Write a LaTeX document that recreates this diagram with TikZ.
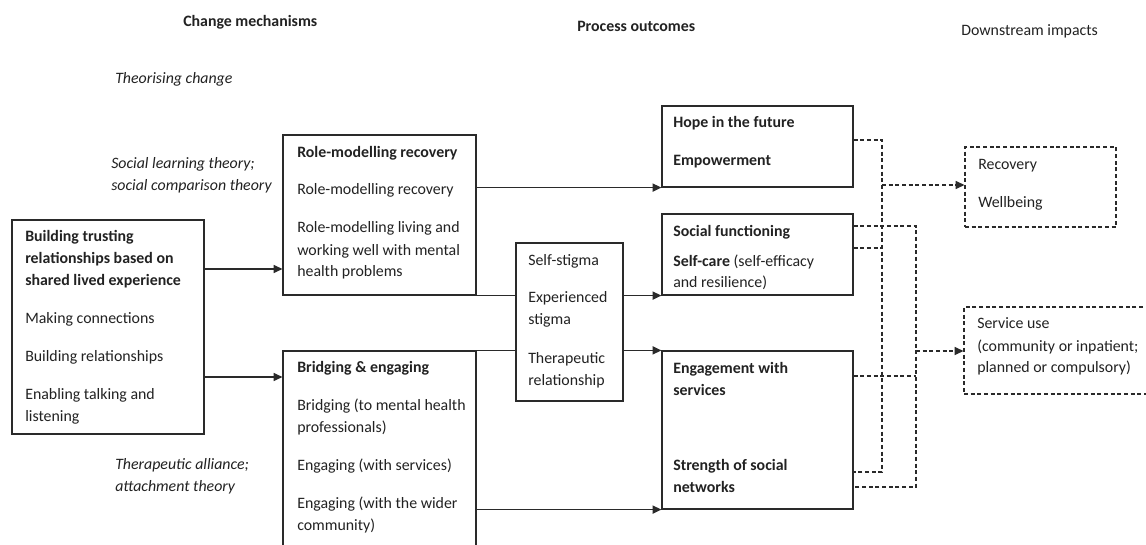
\documentclass[tikz,border=0pt]{standalone}
\usepackage{fontspec}
\setmainfont{Carlito}
\usetikzlibrary{arrows.meta,fit}
\definecolor{lc}{HTML}{2A2A2A}
\definecolor{tc}{HTML}{222222}
\begin{document}
\begin{tikzpicture}[x=0.75pt,y=-0.75pt,
  box/.style={draw=lc, line width=0.9pt, inner sep=0pt, fill=white},
  dbox/.style={box, dash pattern=on 3pt off 2pt},
  t/.style={anchor=base west, inner sep=0pt, yshift=-1.5pt, align=left, text=tc, font=\fontsize{11.9}{16.5}\selectfont},
  tb/.style={t, font=\fontsize{11.9}{16.5}\selectfont\bfseries},
  ti/.style={t, font=\fontsize{11.9}{16.5}\selectfont\itshape},
  ln/.style={draw=lc, line width=0.9pt},
  arr/.style={ln, -{Triangle[length=6.5pt,width=6pt]}},
  dln/.style={ln, dash pattern=on 3pt off 2pt},
  darr/.style={arr, dash pattern=on 3pt off 2pt},
]
\clip (0,0) rectangle (1146,545);
\fill[white] (0,0) rectangle (1146,545);

% headers
\node[tb] (h1) at (183,25) {Change mechanisms};
\node[tb] (h2) at (577,30) {Process outcomes};
\node[t] (h3) at (961,34) {Downstream impacts};

% theories (multi-line nodes are anchored at their last baseline)
\node[ti] (th0) at (115,82) {Theorising change};
\node[ti] (th1) at (111,189) {Social learning theory;\\social comparison theory};
\node[ti] (th2) at (115,489) {Therapeutic alliance;\\attachment theory};

% boxes
\node[box, fit={(12,220)(204,434)}] (build) {};
\node[box, fit={(283,135)(476,295)}] (rm) {};
\node[box, fit={(283,351)(476,570)}] (be) {};
\node[box, fit={(516,243)(623,401)}] (stig) {};
\node[box, fit={(662,106)(853,187)}] (hope) {};
\node[box, fit={(662,214)(853,295)}] (social) {};
\node[box, fit={(662,351)(853,509)}] (eng) {};
\node[dbox, fit={(965,147)(1116,227)}] (rec) {};
\node[dbox, fit={(964,307)(1170,394)}] (svc) {};

% box texts
\node[tb] (b1) at (25,284) {Building trusting\\relationships based on\\shared lived experience};
\node[t] (b2) at (25,322) {Making connections};
\node[t] (b3) at (25,360) {Building relationships};
\node[t] (b4) at (25,419) {Enabling talking and\\listening};

\node[tb] (r1) at (297,156) {Role-modelling recovery};
\node[t] (r2) at (297,193) {Role-modelling recovery};
\node[t] (r3) at (297,275) {Role-modelling living and\\working well with mental\\health problems};

\node[t] (s1) at (528,264) {Self-stigma};
\node[t] (s2) at (528,323) {Experienced\\stigma};
\node[t] (s3) at (528,383) {Therapeutic\\relationship};

\node[tb] (e1) at (297,371) {Bridging \& engaging};
\node[t] (e2) at (297,430) {Bridging (to mental health\\professionals)};
\node[t] (e3) at (297,468) {Engaging (with services)};
\node[t] (e4) at (297,528) {Engaging (with the wider\\community)};

\node[tb] (o1) at (673,126) {Hope in the future};
\node[tb] (o2) at (673,164) {Empowerment};
\node[tb] (o3) at (673,235) {Social functioning};
\node[t] (o4) at (673,286) {\textbf{Self-care} (self-efficacy\\and resilience)};
\node[tb] (o5) at (673,393) {Engagement with\\services};
\node[tb] (o6) at (673,490) {Strength of social\\networks};

\node[t] (d1) at (978,168) {Recovery};
\node[t] (d2) at (978,206) {Wellbeing};
\node[t] (d3) at (977,371) {Service use\\(community or inpatient;\\planned or compulsory)};

% solid connectors
\coordinate (y1) at (0,269);
\coordinate (y2) at (0,377);
\draw[arr] (build.east |- y1) -- (rm.west |- y1);
\draw[arr] (build.east |- y2) -- (be.west |- y2);
\draw[arr] (rm.east |- hope.south) -- (hope.south west);
\draw[ln] (rm.south east) -- (stig.west |- rm.south);
\draw[arr] (stig.east |- social.south) -- (social.south west);
\draw[ln] (be.north east) -- (stig.west |- be.north);
\draw[arr] (stig.east |- eng.north) -- (eng.north west);
\draw[arr] (be.east |- eng.south) -- (eng.south west);

% dashed buses
\coordinate (a1) at (882,140);
\coordinate (a2) at (882,472);
\coordinate (a3) at (882,248);
\coordinate (a4) at (882,185);
\coordinate (c1) at (916,226);
\coordinate (c2) at (916,487);
\coordinate (c3) at (916,376);
\coordinate (c4) at (916,351);
\draw[dln] (hope.east |- a1) -- (a1) -- (a2) -- (eng.east |- a2);
\draw[dln] (social.east |- a3) -- (a3);
\draw[darr] (a4) -- (rec.west |- a4);
\draw[dln] (social.east |- c1) -- (c1) -- (c2) -- (eng.east |- c2);
\draw[dln] (eng.east |- c3) -- (c3);
\draw[darr] (c4) -- (svc.west |- c4);
\end{tikzpicture}
\end{document}
